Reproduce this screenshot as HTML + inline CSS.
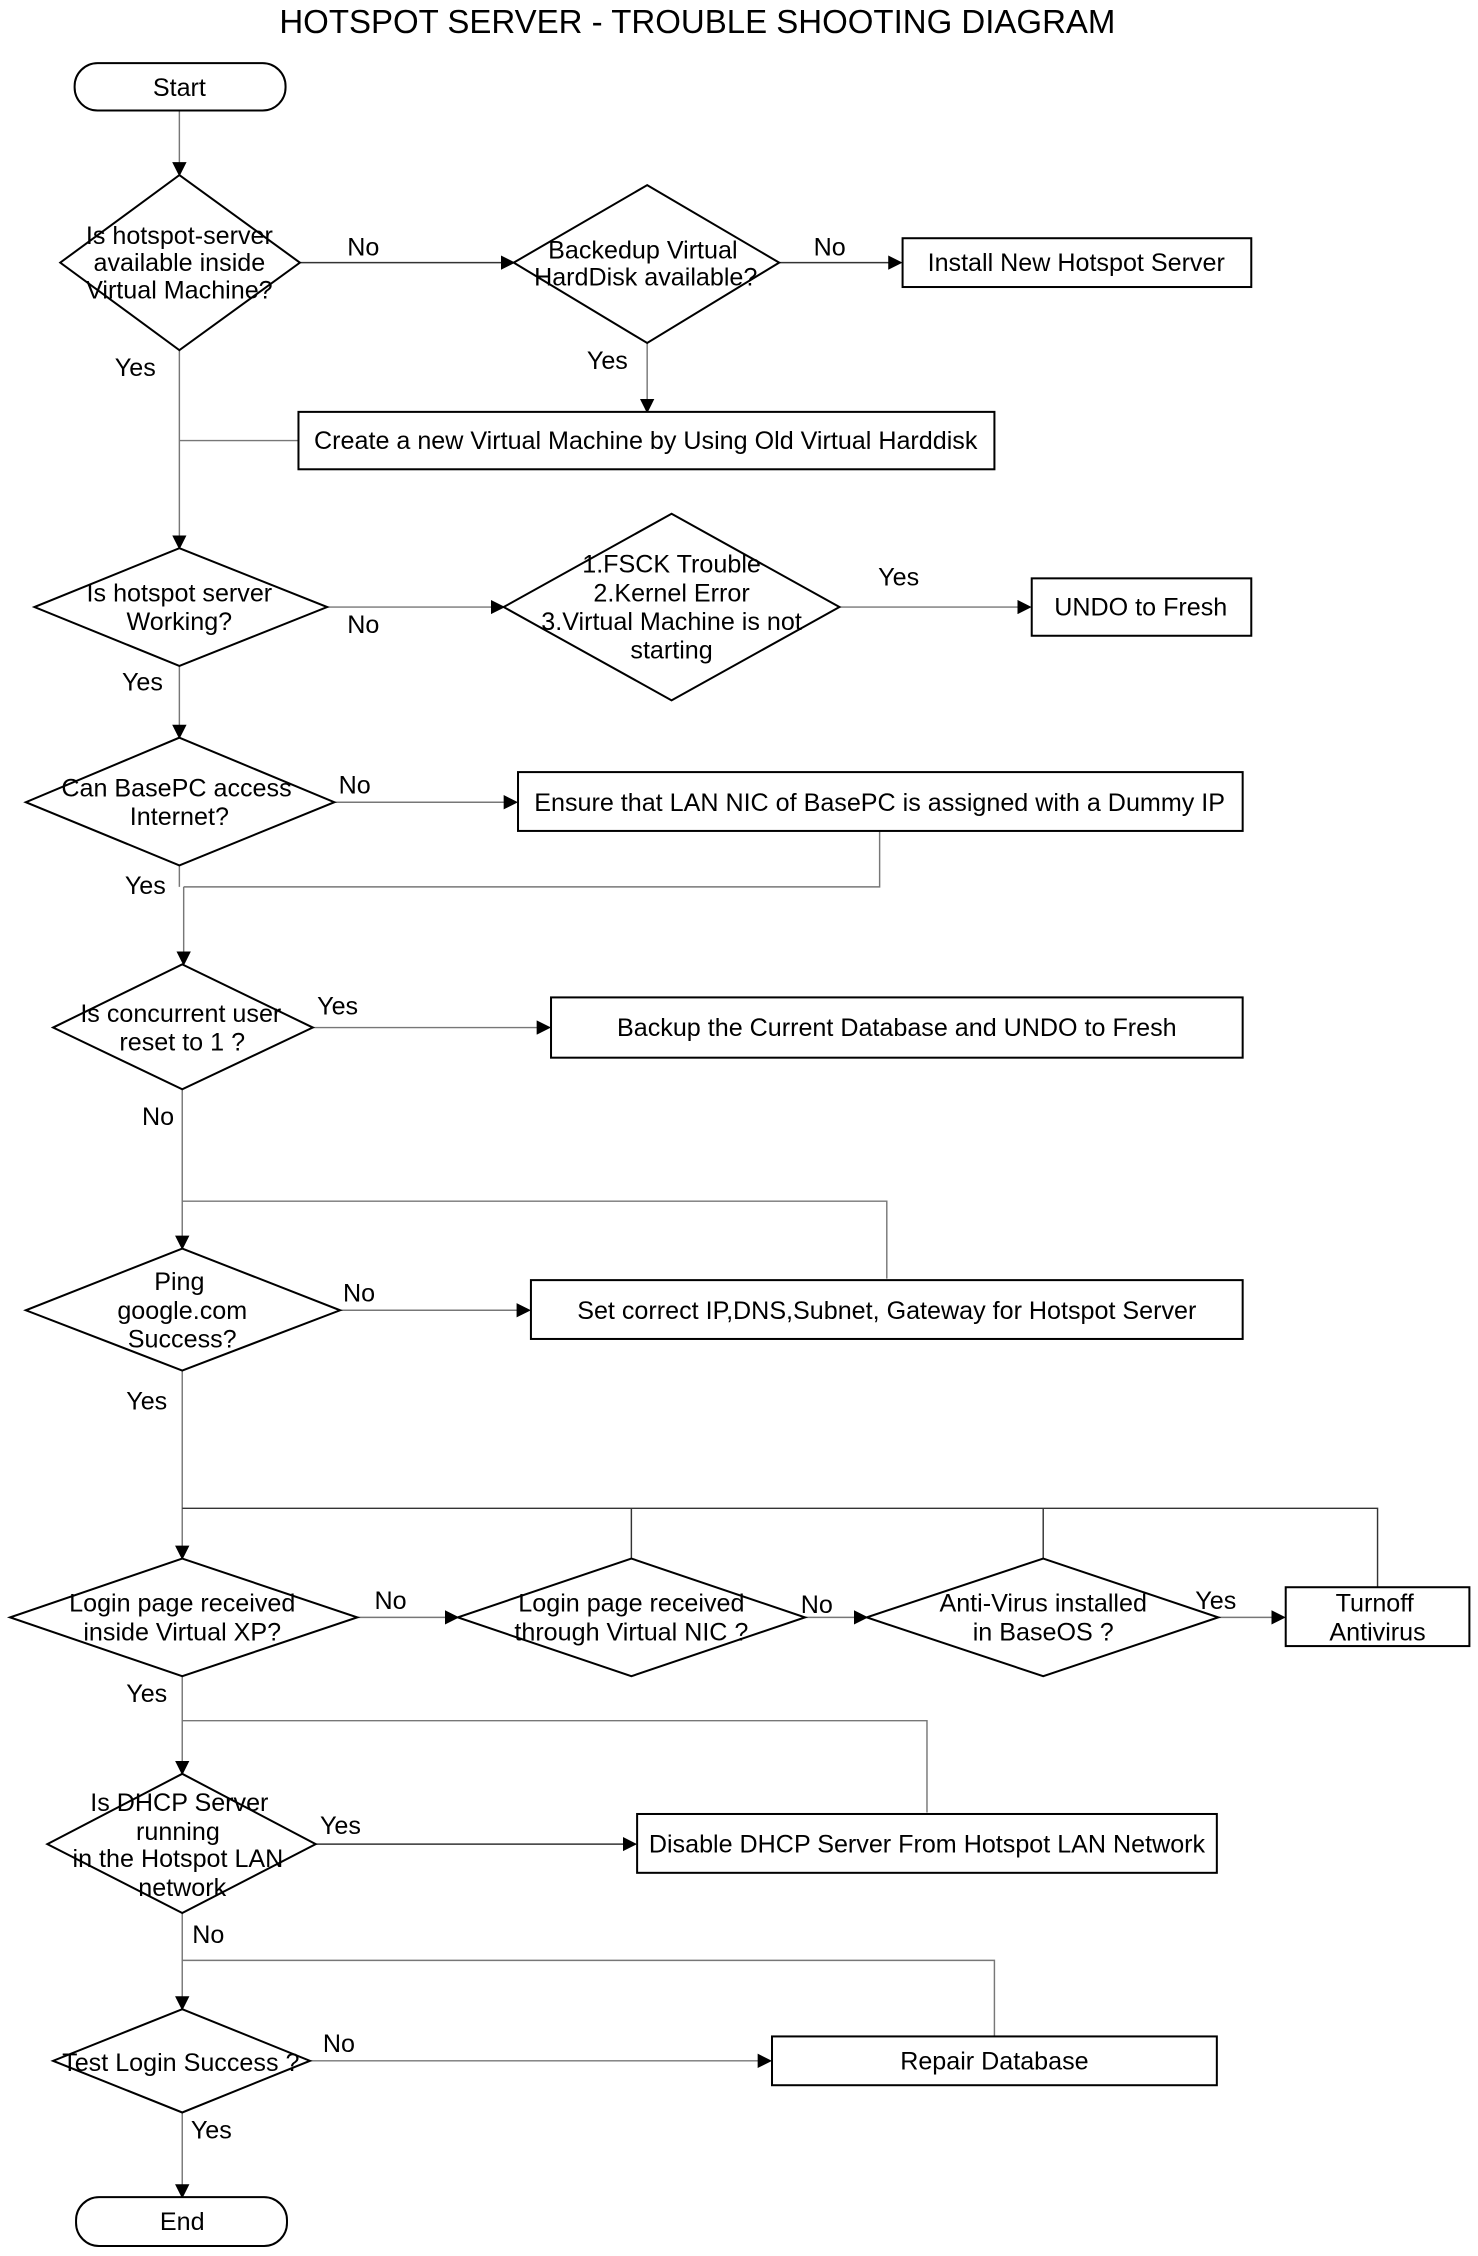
<!DOCTYPE html>
<html><head><meta charset="utf-8"><style>
html,body{margin:0;padding:0;background:#fff;}
svg{display:block;}
text{font-family:"Liberation Sans",Arial,sans-serif;font-size:17.5px;fill:#000;}
.s{fill:#fff;stroke:#000;stroke-width:1.4;}
.c{fill:none;stroke:#777;stroke-width:1;}
.k{fill:none;stroke:#333;stroke-width:1;}
</style></head><body>
<svg width="1478" height="2256" viewBox="0 0 1030 1572" preserveAspectRatio="none" xmlns="http://www.w3.org/2000/svg">
<defs><marker id="a" markerWidth="10" markerHeight="10" refX="9" refY="5" orient="auto" markerUnits="userSpaceOnUse"><path d="M0,0 L10,5 L0,10 Z" fill="#000"/></marker></defs>
<text x="486" y="23" text-anchor="middle" style="font-size:23px">HOTSPOT SERVER - TROUBLE SHOOTING DIAGRAM</text>

<g class="c">
<path d="M125,77 V122" marker-end="url(#a)"/>
<path d="M209,183 H358" class="k" marker-end="url(#a)"/>
<path d="M543,183 H628" class="k" marker-end="url(#a)"/>
<path d="M451,239 V287" marker-end="url(#a)"/>
<path d="M208,307 H125"/>
<path d="M125,244 V382" marker-end="url(#a)"/>
<path d="M228,423 H351" marker-end="url(#a)"/>
<path d="M585,423 H718" marker-end="url(#a)"/>
<path d="M125,464 V514" marker-end="url(#a)"/>
<path d="M233,559 H360" marker-end="url(#a)"/>
<path d="M613,579 V618 H128"/>
<path d="M125,603 V618 M128,618 V672" marker-end="url(#a)"/>
<path d="M218,716 H383" marker-end="url(#a)"/>
<path d="M127,759 V870" marker-end="url(#a)"/>
<path d="M618,891 V837 H127"/>
<path d="M237,913 H369" marker-end="url(#a)"/>
<path d="M127,955 V1086" marker-end="url(#a)"/>
<path d="M127,1051 H960 V1106 M440,1051 V1086 M727,1051 V1086" class="k"/>
<path d="M249,1127 H319" marker-end="url(#a)"/>
<path d="M561,1127 H604" marker-end="url(#a)"/>
<path d="M849,1127 H895" marker-end="url(#a)"/>
<path d="M127,1168 V1236" marker-end="url(#a)"/>
<path d="M646,1263 V1199 H127"/>
<path d="M220,1285 H443" class="k" marker-end="url(#a)"/>
<path d="M127,1333 V1400" marker-end="url(#a)"/>
<path d="M693,1419 V1366 H127"/>
<path d="M216,1436 H537" marker-end="url(#a)"/>
<path d="M127,1472 V1531" marker-end="url(#a)"/>
</g>

<rect class="s" x="52" y="44" width="147" height="33" rx="16"/>
<text x="125" y="67" text-anchor="middle">Start</text>

<polygon class="s" points="125,122 209,183 125,244 42,183"/>
<text text-anchor="middle"><tspan x="125" y="170">Is hotspot-server</tspan><tspan x="125" y="189">available inside</tspan><tspan x="125" y="208">Virtual Machine?</tspan></text>

<polygon class="s" points="451,129 543,183 451,239 358,183"/>
<text text-anchor="middle"><tspan x="448" y="180">Backedup Virtual</tspan><tspan x="450" y="199">HardDisk available?</tspan></text>

<rect class="s" x="629" y="166" width="243" height="34"/>
<text x="750" y="189" text-anchor="middle">Install New Hotspot Server</text>

<rect class="s" x="208" y="287" width="485" height="40"/>
<text x="450" y="313" text-anchor="middle">Create a new Virtual Machine by  Using Old Virtual Harddisk</text>

<polygon class="s" points="125,382 228,423 125,464 24,423"/>
<text text-anchor="middle"><tspan x="125" y="419">Is hotspot server</tspan><tspan x="125" y="439">Working?</tspan></text>

<polygon class="s" points="468,358 585,423 468,488 351,423"/>
<text text-anchor="middle"><tspan x="468" y="399">1.FSCK Trouble</tspan><tspan x="468" y="419">2.Kernel Error</tspan><tspan x="468" y="439">3.Virtual Machine is not</tspan><tspan x="468" y="459">starting</tspan></text>

<rect class="s" x="719" y="403" width="153" height="40"/>
<text x="795" y="429" text-anchor="middle">UNDO to Fresh</text>

<polygon class="s" points="125,514 233,559 125,603 18,559"/>
<text text-anchor="middle"><tspan x="123" y="555">Can BasePC access</tspan><tspan x="125" y="575">Internet?</tspan></text>

<rect class="s" x="361" y="538" width="505" height="41"/>
<text x="613" y="565" text-anchor="middle">Ensure that LAN NIC of BasePC is assigned with a Dummy IP</text>

<polygon class="s" points="127,672 218,716 127,759 37,716"/>
<text text-anchor="middle"><tspan x="126" y="712">Is concurrent user</tspan><tspan x="127" y="732">reset to 1 ?</tspan></text>

<rect class="s" x="384" y="695" width="482" height="42"/>
<text x="625" y="722" text-anchor="middle">Backup the Current Database and UNDO to Fresh</text>

<polygon class="s" points="127,870 237,913 127,955 18,913"/>
<text text-anchor="middle"><tspan x="125" y="899">Ping</tspan><tspan x="127" y="919">google.com</tspan><tspan x="127" y="939">Success?</tspan></text>

<rect class="s" x="370" y="892" width="496" height="41"/>
<text x="618" y="919" text-anchor="middle">Set correct IP,DNS,Subnet, Gateway for Hotspot Server</text>

<polygon class="s" points="127,1086 249,1127 127,1168 7,1127"/>
<text text-anchor="middle"><tspan x="127" y="1123">Login page received</tspan><tspan x="127" y="1143">inside Virtual XP?</tspan></text>

<polygon class="s" points="440,1086 561,1127 440,1168 319,1127"/>
<text text-anchor="middle"><tspan x="440" y="1123">Login page received</tspan><tspan x="440" y="1143">through Virtual NIC ?</tspan></text>

<polygon class="s" points="727,1086 849,1127 727,1168 604,1127"/>
<text text-anchor="middle"><tspan x="727" y="1123">Anti-Virus installed</tspan><tspan x="727" y="1143">in BaseOS ?</tspan></text>

<rect class="s" x="896" y="1106" width="128" height="41"/>
<text text-anchor="middle"><tspan x="958" y="1123">Turnoff</tspan><tspan x="960" y="1143">Antivirus</tspan></text>

<polygon class="s" points="127,1236 220,1285 127,1333 33,1285"/>
<text text-anchor="middle"><tspan x="125" y="1262">Is DHCP Server</tspan><tspan x="124" y="1282">running</tspan><tspan x="124" y="1301">in the Hotspot LAN</tspan><tspan x="127" y="1321">network</tspan></text>

<rect class="s" x="444" y="1264" width="404" height="41"/>
<text x="646" y="1291" text-anchor="middle">Disable DHCP Server From Hotspot LAN Network</text>

<polygon class="s" points="127,1400 216,1436 127,1472 37,1436"/>
<text x="126" y="1443" text-anchor="middle">Test Login Success ?</text>

<rect class="s" x="538" y="1419" width="310" height="34"/>
<text x="693" y="1442" text-anchor="middle">Repair Database</text>

<rect class="s" x="53" y="1531" width="147" height="34" rx="16"/>
<text x="127" y="1554" text-anchor="middle">End</text>

<text x="242" y="178">No</text>
<text x="567" y="178">No</text>
<text x="409" y="257">Yes</text>
<text x="80" y="262">Yes</text>
<text x="242" y="441">No</text>
<text x="612" y="408">Yes</text>
<text x="85" y="481">Yes</text>
<text x="236" y="553">No</text>
<text x="87" y="623">Yes</text>
<text x="221" y="707">Yes</text>
<text x="99" y="784">No</text>
<text x="239" y="907">No</text>
<text x="88" y="982">Yes</text>
<text x="261" y="1121">No</text>
<text x="558" y="1124">No</text>
<text x="833" y="1121">Yes</text>
<text x="88" y="1186">Yes</text>
<text x="223" y="1278">Yes</text>
<text x="134" y="1354">No</text>
<text x="225" y="1430">No</text>
<text x="133" y="1490">Yes</text>
</svg>
</body></html>
